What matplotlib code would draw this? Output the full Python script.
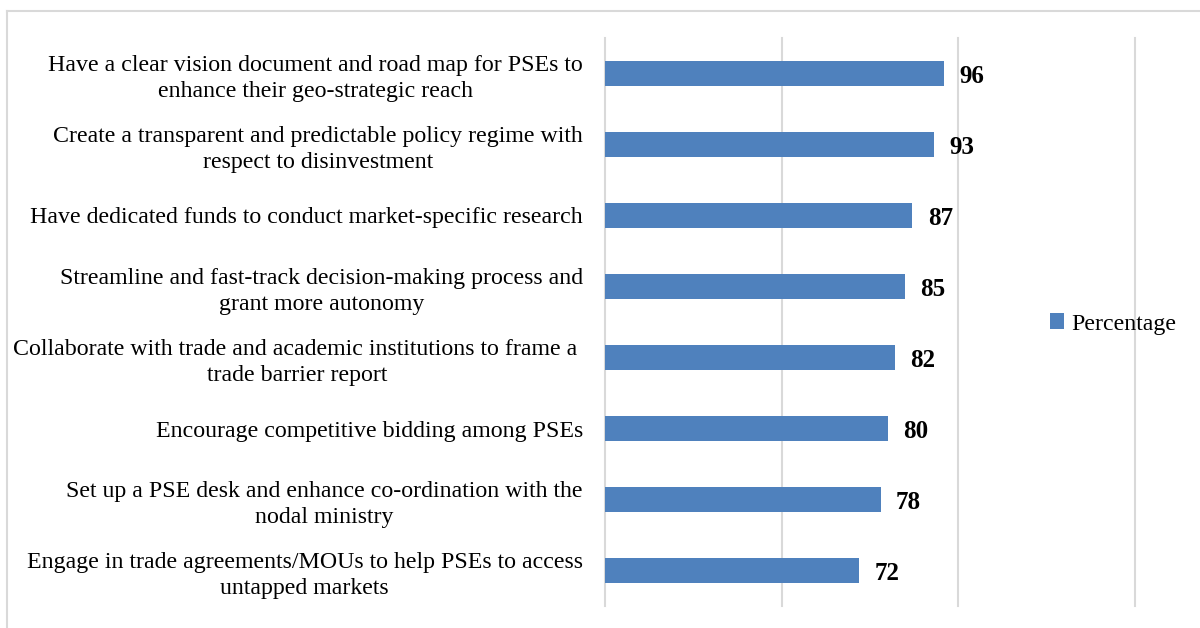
import numpy as np
import matplotlib.pyplot as plt
from matplotlib.lines import Line2D

labels = [
    'Have a clear vision document and road map for PSEs to\nenhance their geo-strategic reach',
    'Create a transparent and predictable policy regime with\nrespect to disinvestment',
    'Have dedicated funds to conduct market-specific research',
    'Streamline and fast-track decision-making process and\ngrant more autonomy',
    'Collaborate with trade and academic institutions to frame a \ntrade barrier report',
    'Encourage competitive bidding among PSEs',
    'Set up a PSE desk and enhance co-ordination with the\nnodal ministry',
    'Engage in trade agreements/MOUs to help PSEs to access\nuntapped markets',
]
values = [96, 93, 87, 85, 82, 80, 78, 72]

plt.rcParams['font.family'] = ['Liberation Serif', 'DejaVu Serif']

fig = plt.figure(figsize=(12, 6.28), dpi=100)
ax = fig.add_axes([605 / 1200, 1 - 606 / 628, 530 / 1200, 568 / 628])

y = np.arange(len(values))
bars = ax.barh(y, values, height=0.35, color='#4F81BD', label='Percentage', zorder=3)

for yi, v in zip(y, values):
    ax.annotate(str(v), xy=(v, yi), xytext=(11, -2), textcoords='offset points',
                ha='left', va='center', fontsize=18, fontweight='bold', color='black')

ax.set_xlim(0, 150)
ax.set_ylim(len(values) - 0.5, -0.5)
ax.set_xticks([0, 50, 100, 150])
ax.set_xticklabels([])
ax.tick_params(axis='x', length=0)
ax.set_yticks(y)
ax.set_yticklabels(labels, fontsize=17.2, multialignment='center', linespacing=1.3)
ax.tick_params(axis='y', length=0, pad=16)
ax.grid(axis='x', color='#D9D9D9', linewidth=1.5, zorder=0)
for gl in ax.get_xgridlines():
    gl.set_clip_on(False)
for s in ax.spines.values():
    s.set_visible(False)

fig.legend(handles=[bars], labels=['Percentage'], loc='center left',
           bbox_to_anchor=(1028 / 1200, 1 - 324 / 628), frameon=False,
           fontsize=17.2, handlelength=0.6, handleheight=0.6, handletextpad=0.3)

# outer frame: only top and left edges are visible
fig.add_artist(Line2D([7 / 1200, 1], [1 - 11 / 628, 1 - 11 / 628],
                      transform=fig.transFigure, color='#D9D9D9', linewidth=1.5))
fig.add_artist(Line2D([7 / 1200, 7 / 1200], [0, 1 - 11 / 628],
                      transform=fig.transFigure, color='#D9D9D9', linewidth=1.5))

fig.savefig('out.png', dpi=100, facecolor='white')
